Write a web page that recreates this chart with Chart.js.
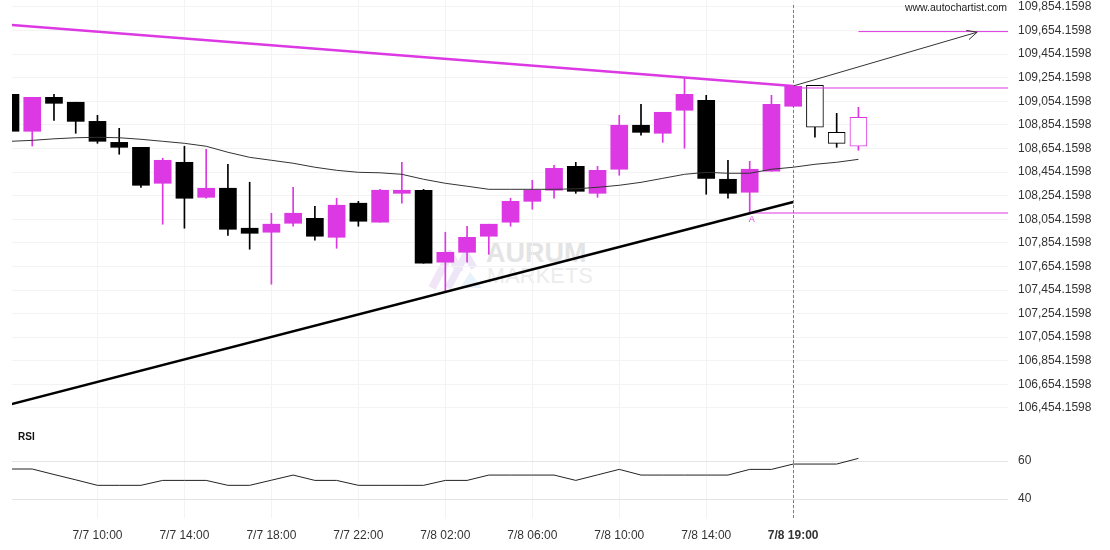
<!DOCTYPE html>
<html>
<head>
  <title>Hourly candles with RSI</title>
  <script src="https://cdn.jsdelivr.net/npm/chart.js"></script>
  <style>
    body { margin: 0; background: #fff; font-family: 'Liberation Sans', Arial, sans-serif; }
    #wrap { position: relative; width: 1110px; height: 550px; }
    #wrap canvas { position: absolute; left: 0; top: 0; }
    .site { position: absolute; right: 103px; top: 1px; font-size: 10.5px; color: #222; }
    .rsi { position: absolute; left: 18px; top: 431px; font-size: 10px; font-weight: bold; color: #111; }
    .wm1 { position: absolute; left: 486px; top: 240px; font-size: 27px; font-weight: bold; color: #e4e4e4; line-height: 1; }
    .wm2 { position: absolute; left: 487px; top: 266px; font-size: 21.5px; color: #ececec; line-height: 1; letter-spacing: 0.3px; }
  </style>
</head>
<body>
  <div id="wrap">
    <svg style="position:absolute;left:426px;top:246px" width="60" height="46">
      <path d="M6 42 L24 8 L34 26" fill="none" stroke="#f1e6f6" stroke-width="8" stroke-linejoin="round"/>
      <path d="M22 42 L40 8 L48 22" fill="none" stroke="#ece6f8" stroke-width="7" stroke-linejoin="round"/>
      <path d="M34 42 L44 26 L56 42 Z" fill="#e8f2fb"/>
    </svg>
    <div class="wm1">AURUM</div>
    <div class="wm2">MARKETS</div>
    <canvas id="chart" width="1110" height="550"></canvas>
    <div class="site">www.autochartist.com</div>
    <div class="rsi">RSI</div>
  </div>

  <script>
    // hourly candles, index 0 = 7/7 06:00
    const opens  = [109113,108800,109088,109046,108884,108706,108664,108359,108537,108240,
                    108317,107978,107944,108020,108062,107901,108190,108029,108274,108300,
                    107690,107774,107910,108029,108206,108300,108503,108274,108478,108851,
                    108783,108978,109062,108393,108283,108461,109012,109190,108791,108673];
    const highs  = [109113,109088,109113,109046,108935,108825,108664,108571,108673,108647,
                    108520,108368,108105,108325,108164,108232,108206,108308,108537,108308,
                    107944,107995,108012,108232,108384,108512,108537,108503,108935,109029,
                    108961,109249,109105,108554,108545,109105,109181,109190,108952,109003];
    const lows   = [108800,108675,108893,108783,108698,108605,108325,108012,107978,108232,
                    107918,107800,107503,107995,107876,107808,107995,108029,108190,107681,
                    107435,107690,107757,107995,108139,108232,108274,108240,108427,108766,
                    108706,108656,108266,108232,108105,108461,109012,108749,108664,108639];
    const closes = [108800,109088,109037,108884,108715,108664,108342,108554,108232,108317,
                    107969,107935,108012,108105,107910,108173,108037,108300,108300,107681,
                    107774,107901,108012,108206,108300,108486,108291,108469,108851,108791,
                    108961,109113,108401,108274,108478,109029,109181,108834,108698,108918];
    const movingAvg = [108715,108723,108736,108745,108749,108745,108732,108715,108698,108673,
                       108622,108579,108554,108529,108495,108469,108452,108448,108435,108393,
                       108359,108334,108308,108308,108308,108308,108312,108325,108342,108367,
                       108401,108435,108452,108444,108444,108478,108495,108520,108537,108562];
    const rsi = [55.8,55.8,52.9,50.1,47.2,47.2,47.2,49.8,49.8,49.8,
                 47.2,47.2,49.9,52.6,49.8,49.8,47.2,47.2,47.2,47.2,
                 49.8,49.8,52.6,52.6,52.6,52.6,49.8,52.7,55.6,52.6,
                 52.6,52.6,52.6,52.6,55.6,55.6,58.4,58.4,58.4,61.4];

    const hollowFrom = 37;   // candles after the signal are drawn hollow
    const signalIdx = 36;    // 7/8 19:00 marker
    const pointA = 34;

    // pattern lines (index, price)
    const resistance = [{x: 0, y: 109703}, {x: 36, y: 109184}];
    const supportLine = [{x: 0, y: 106485}, {x: 36, y: 108201}];
    const projection = [{x: 36, y: 109184}, {x: 44.46, y: 109640}];
    const targetLevel = [{x: 39, y: 109645}, {x: 47, y: 109645}];
    const breakLevel = [{x: 36, y: 109167}, {x: 47, y: 109167}];
    const lowLevel = [{x: 34, y: 108107}, {x: 47, y: 108107}];

    const tickIdx = [4, 8, 12, 16, 20, 24, 28, 32, 36];
    const tickLabels = ['7/7 10:00', '7/7 14:00', '7/7 18:00', '7/7 22:00', '7/8 02:00',
                        '7/8 06:00', '7/8 10:00', '7/8 14:00', '7/8 19:00'];
    const priceTicks = [106454.1598, 106654.1598, 106854.1598, 107054.1598, 107254.1598,
                        107454.1598, 107654.1598, 107854.1598, 108054.1598, 108254.1598,
                        108454.1598, 108654.1598, 108854.1598, 109054.1598, 109254.1598,
                        109454.1598, 109654.1598, 109854.1598];
    const rsiTicks = [40, 60];

    const PINK = '#dc38e4';
    const up = i => closes[i] >= opens[i];
    const candleColor = i => up(i) ? PINK : '#000';

    function fmtPrice(v) {
      const parts = v.toFixed(4).split('.');
      return parts[0].replace(/\B(?=(\d{3})+(?!\d))/g, ',') + '.' + parts[1];
    }

    // dashed marker, arrow head and the "A" label
    const overlay = {
      id: 'overlay',
      afterDatasetsDraw(chart) {
        const { ctx, chartArea, scales } = chart;
        const x = Math.round(scales.x.getPixelForValue(signalIdx)) + 0.5;
        ctx.save();
        ctx.strokeStyle = PINK;
        ctx.lineWidth = 1;
        ctx.setLineDash([3, 2]);
        ctx.beginPath();
        ctx.moveTo(x, chartArea.top + 5);
        ctx.lineTo(x, chartArea.bottom);
        ctx.stroke();
        ctx.setLineDash([]);

        const x0 = scales.x.getPixelForValue(projection[0].x), y0 = scales.y.getPixelForValue(projection[0].y);
        const x1 = scales.x.getPixelForValue(projection[1].x), y1 = scales.y.getPixelForValue(projection[1].y);
        const a = Math.atan2(y1 - y0, x1 - x0);
        ctx.strokeStyle = '#333';
        ctx.beginPath();
        ctx.moveTo(x1 - 11 * Math.cos(a - 0.45), y1 - 11 * Math.sin(a - 0.45));
        ctx.lineTo(x1, y1);
        ctx.lineTo(x1 - 11 * Math.cos(a + 0.45), y1 - 11 * Math.sin(a + 0.45));
        ctx.stroke();

        ctx.fillStyle = PINK;
        ctx.font = '9px "Liberation Sans", Arial, sans-serif';
        ctx.textAlign = 'center';
        ctx.textBaseline = 'top';
        ctx.fillText('A', scales.x.getPixelForValue(pointA) + 2, scales.y.getPixelForValue(lows[pointA]) + 2);
        ctx.restore();
      }
    };

    const lineDs = (data, color, width, yAxisID) => ({
      type: 'line', data, borderColor: color, borderWidth: width,
      pointRadius: 0, tension: 0, fill: false, yAxisID: yAxisID || 'y', order: 0
    });

    // fixed axis boxes so the plot area sits where the original one does
    const fixSide = s => { s.width = 102; s.paddingTop = 0; s.paddingBottom = 0; };

    Chart.defaults.font.family = "'Liberation Sans', Arial, sans-serif";
    Chart.defaults.font.size = 12;
    Chart.defaults.color = '#333';

    new Chart(document.getElementById('chart'), {
      type: 'bar',
      data: {
        datasets: [
          lineDs(resistance, PINK, 2.5),
          lineDs(supportLine, '#000', 2.5),
          lineDs(projection, '#333', 1),
          lineDs(targetLevel, PINK, 1),
          lineDs(breakLevel, PINK, 1),
          lineDs(lowLevel, PINK, 1),
          lineDs(movingAvg.map((v, i) => ({x: i, y: v})), '#333', 1),
          lineDs(rsi.map((v, i) => ({x: i, y: v})), '#222', 1, 'yr'),
          {
            label: 'bodies',
            data: opens.map((o, i) => ({x: i, y: [o, closes[i]]})),
            backgroundColor: opens.map((o, i) => i >= hollowFrom ? '#fff' : candleColor(i)),
            borderColor: opens.map((o, i) => candleColor(i)),
            borderWidth: opens.map((o, i) => i >= hollowFrom ? 1 : 0),
            borderSkipped: false,
            barThickness: 17,
            grouped: false,
            clip: 0,
            yAxisID: 'y',
            order: 2
          },
          {
            label: 'wicks',
            data: lows.map((l, i) => ({x: i, y: [l, highs[i]]})),
            backgroundColor: lows.map((l, i) => candleColor(i)),
            borderWidth: 0,
            barThickness: 1,
            grouped: false,
            clip: 0,
            yAxisID: 'y',
            order: 3
          }
        ]
      },
      options: {
        responsive: false,
        animation: false,
        layout: { padding: { left: 12, right: 0, top: 0, bottom: 0 } },
        plugins: { legend: { display: false }, tooltip: { enabled: false } },
        scales: {
          x: {
            type: 'linear', min: 0.069, max: 45.88, offset: false,
            grid: { color: '#f3f3f3', drawTicks: false, offset: false },
            border: { display: false },
            afterBuildTicks: s => { s.ticks = tickIdx.map(v => ({ value: v })); },
            afterFit: s => { s.height = 32; s.paddingLeft = 0; s.paddingRight = 0; },
            ticks: {
              padding: 10, autoSkip: false, maxRotation: 0, color: '#333',
              callback: (v, i) => tickLabels[i],
              font: c => ({ size: 12, weight: c.index === tickLabels.length - 1 ? 'bold' : 'normal' })
            }
          },
          y: {
            type: 'linear', position: 'right', stack: 'panes', stackWeight: 420,
            min: 106352, max: 109913,
            grid: { color: '#f3f3f3', drawTicks: false },
            border: { display: false },
            afterBuildTicks: s => { s.ticks = priceTicks.map(v => ({ value: v })); },
            afterFit: fixSide,
            ticks: { padding: 10, color: '#333', autoSkip: false, callback: v => fmtPrice(v) }
          },
          yr: {
            type: 'linear', position: 'right', stack: 'panes', stackWeight: 98,
            min: 30, max: 81.6,
            grid: { color: '#e4e4e4', drawTicks: false },
            border: { display: false },
            afterBuildTicks: s => { s.ticks = rsiTicks.map(v => ({ value: v })); },
            afterFit: fixSide,
            ticks: { padding: 10, color: '#333', autoSkip: false }
          }
        }
      },
      plugins: [overlay]
    });
  </script>
</body>
</html>
